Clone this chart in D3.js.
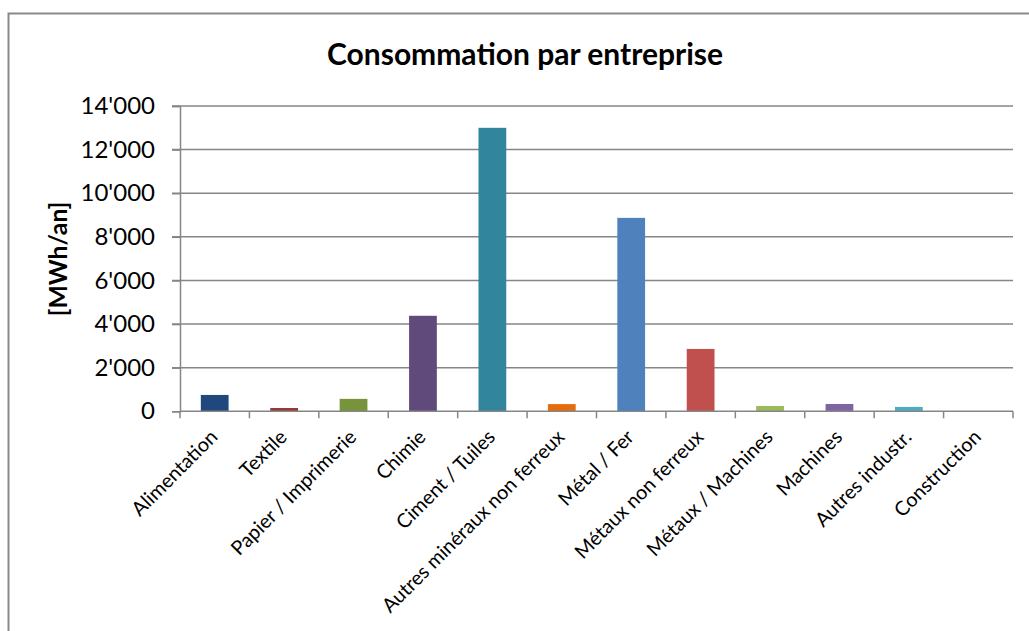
<!DOCTYPE html>
<html><head><meta charset="utf-8">
<script src="https://cdn.jsdelivr.net/npm/d3@7"></script>
<style>body{margin:0;background:#fff}svg{display:block}text{font-family:Lato, "Open Sans", sans-serif}</style>
</head><body>
<svg id="c" width="1029" height="631"></svg>
<script>
const categories = ["Alimentation","Textile","Papier / Imprimerie","Chimie","Ciment / Tuiles","Autres minéraux non ferreux","Métal / Fer","Métaux non ferreux","Métaux / Machines","Machines","Autres industr.","Construction"];
const values = [750,150,570,4380,13000,330,8870,2860,245,335,200,0];
const colors = ["#1F497D","#953735","#77933C","#604A7B","#31859C","#E46C0A","#4F81BD","#C0504D","#9BBB59","#8064A2","#4BACC6","#F79646"];
const yTicks = [0,2000,4000,6000,8000,10000,12000,14000];
const title = "Consommation par entreprise";
const yTitle = "[MWh/an]";

const svg = d3.select("#c");
const L=180, R=1013, T=106, B=411.3;
const x = d3.scaleBand().domain(categories).range([L,R]).paddingInner(0.6).paddingOuter(0.3);
const y = d3.scaleLinear().domain([0,14000]).range([B,T]);
const fmt = v => d3.format(",")(v).replace(/,/g,"'");

// border
svg.append("path").attr("d","M8.5,640 V13.5 H1040").attr("fill","none").attr("stroke","#898989").attr("stroke-width",2);

// gridlines
svg.append("g").selectAll("line").data(yTicks.slice(1)).join("line")
  .attr("x1",L-8).attr("x2",R).attr("y1",d=>y(d)).attr("y2",d=>y(d))
  .attr("stroke","#868686").attr("stroke-width",1.5);

// y axis
const ya = svg.append("g").attr("transform",`translate(${L},0)`).call(d3.axisLeft(y).tickValues(yTicks).tickFormat(fmt).tickSize(8).tickPadding(17));
ya.select(".domain").attr("stroke","#868686").attr("stroke-width",1.5);
ya.selectAll(".tick line").attr("stroke","#868686").attr("stroke-width",1.5);
ya.selectAll("text").attr("font-size",24).attr("fill","#000").attr("font-family","Lato");

// bars
svg.append("g").selectAll("rect").data(values).join("rect")
  .attr("x",(d,i)=>x(categories[i])).attr("width",x.bandwidth())
  .attr("y",d=>y(d)).attr("height",d=>B-y(d))
  .attr("fill",(d,i)=>colors[i]);

// x axis
const step = x.step();
const xa = svg.append("g").attr("transform",`translate(0,${B})`);
xa.append("line").attr("x1",L).attr("x2",R).attr("stroke","#868686").attr("stroke-width",1.5);
xa.selectAll(".tk").data(d3.range(categories.length+1)).join("line").attr("class","tk")
  .attr("x1",i=>L+i*step).attr("x2",i=>L+i*step).attr("y1",0).attr("y2",7)
  .attr("stroke","#868686").attr("stroke-width",1.5);
xa.selectAll(".lbl").data(categories).join("text").attr("class","lbl")
  .attr("transform",d=>`translate(${x(d)+x.bandwidth()/2+4},${27}) rotate(-45)`)
  .attr("text-anchor","end").attr("font-size",19.8).attr("fill","#000").text(d=>d);

// title
svg.append("text").attr("x",525).attr("y",65).attr("text-anchor","middle")
  .attr("font-size",30).attr("font-weight","bold").text(title);
// y title
svg.append("text").attr("transform","translate(67,259) rotate(-90)").attr("text-anchor","middle")
  .attr("font-size",24.7).attr("font-weight","bold").text(yTitle);
</script>
</body></html>
